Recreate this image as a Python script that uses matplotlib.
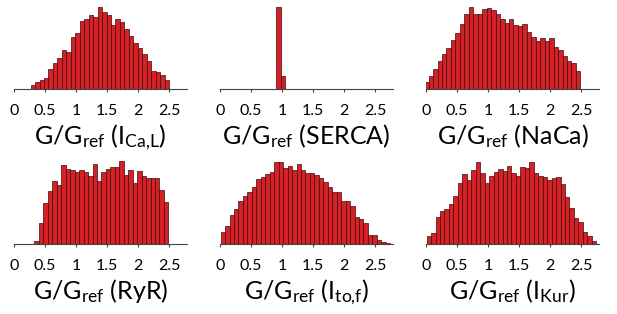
import matplotlib
matplotlib.use("Agg")
import matplotlib.pyplot as plt
import numpy as np

plt.rcParams['font.family'] = ['Lato', 'DejaVu Sans']
plt.rcParams['mathtext.fontset'] = 'custom'
plt.rcParams['mathtext.rm'] = 'Lato'
plt.rcParams['mathtext.it'] = 'Lato'
plt.rcParams['mathtext.bf'] = 'Lato'

# ---- data (bar heights, relative counts) ----
bin_width = 0.072

ical_start = 0.124
ical_counts = [1, 1, 11, 22, 28, 33, 60, 78, 94, 118, 110, 156, 168, 204, 210, 224,
               216, 248, 233, 223, 193, 211, 203, 180, 160, 140, 123, 106, 83, 55,
               50, 43, 28]

serca_start = 0.833
serca_counts = [1, 248, 40]

naca_start = -0.03
naca_counts = [20, 40, 60, 85, 106, 123, 148, 168, 195, 226, 248, 226, 226, 241, 245,
               238, 226, 211, 200, 210, 193, 191, 195, 171, 158, 146, 155, 146, 153,
               126, 118, 100, 85, 78, 53]

ryr_start = 0.33
ryr_counts = [10, 62, 122, 159, 190, 177, 237, 227, 222, 218, 224, 217, 205, 240, 190,
              217, 227, 232, 232, 250, 207, 224, 184, 219, 204, 200, 198, 198, 162, 127]

itof_start = 0.01
itof_counts = [36, 53, 88, 105, 130, 145, 158, 173, 196, 201, 210, 216, 246, 246, 228,
               236, 223, 240, 223, 213, 213, 208, 200, 186, 173, 158, 158, 130, 130,
               113, 80, 76, 63, 28, 26, 13, 6, 2]

ikur_start = 0.01
ikur_counts = [23, 32, 80, 100, 105, 120, 145, 185, 212, 192, 222, 248, 215, 185, 205,
               218, 225, 220, 235, 215, 205, 232, 228, 248, 215, 205, 202, 192, 200,
               202, 182, 142, 108, 78, 65, 35, 25, 10]

labels = [r"G/G$_{\mathregular{ref}}$ (I$_{\mathregular{Ca{,}L}}$)",
          r"G/G$_{\mathregular{ref}}$ (SERCA)",
          r"G/G$_{\mathregular{ref}}$ (NaCa)",
          r"G/G$_{\mathregular{ref}}$ (RyR)",
          r"G/G$_{\mathregular{ref}}$ (I$_{\mathregular{to{,}f}}$)",
          r"G/G$_{\mathregular{ref}}$ (I$_{\mathregular{Kur}}$)"]

tick_vals = [0, 0.5, 1, 1.5, 2, 2.5]
tick_labels = ["0", "0.5", "1", "1.5", "2", "2.5"]

panels = [(ical_start, ical_counts), (serca_start, serca_counts), (naca_start, naca_counts),
          (ryr_start, ryr_counts), (itof_start, itof_counts), (ikur_start, ikur_counts)]

# ---- layout ----
W, H = 617, 314
fig = plt.figure(figsize=(W / 100, H / 100), dpi=100)

lefts = [14, 220, 426]
baselines = [89, 244]
ax_w, ax_h = 173, 83

for i, ((start, counts), lab) in enumerate(zip(panels, labels)):
    r, c = divmod(i, 3)
    l = lefts[c]
    b = baselines[r]
    ax = fig.add_axes([l / W, (H - b) / H, ax_w / W, ax_h / H])
    counts = np.array(counts, dtype=float)
    edges = start + bin_width * np.arange(len(counts))
    ax.bar(edges, counts, width=bin_width, align='edge', color='#d71f26',
           edgecolor='#3a0c0c', linewidth=0.5)
    ax.set_xlim(0, 2.79)
    ax.set_ylim(0, 250)
    for s in ['top', 'right', 'left']:
        ax.spines[s].set_visible(False)
    ax.spines['bottom'].set_color('#444444')
    ax.spines['bottom'].set_linewidth(0.8)
    ax.set_yticks([])
    ax.set_xticks(tick_vals)
    ax.set_xticklabels(tick_labels, fontsize=11.5)
    ax.tick_params(axis='x', direction='out', length=2.5, width=0.8, color='#444444',
                   pad=8)
    ax.set_xlabel(lab, fontsize=18, labelpad=3)

fig.savefig("out.png", dpi=100)
